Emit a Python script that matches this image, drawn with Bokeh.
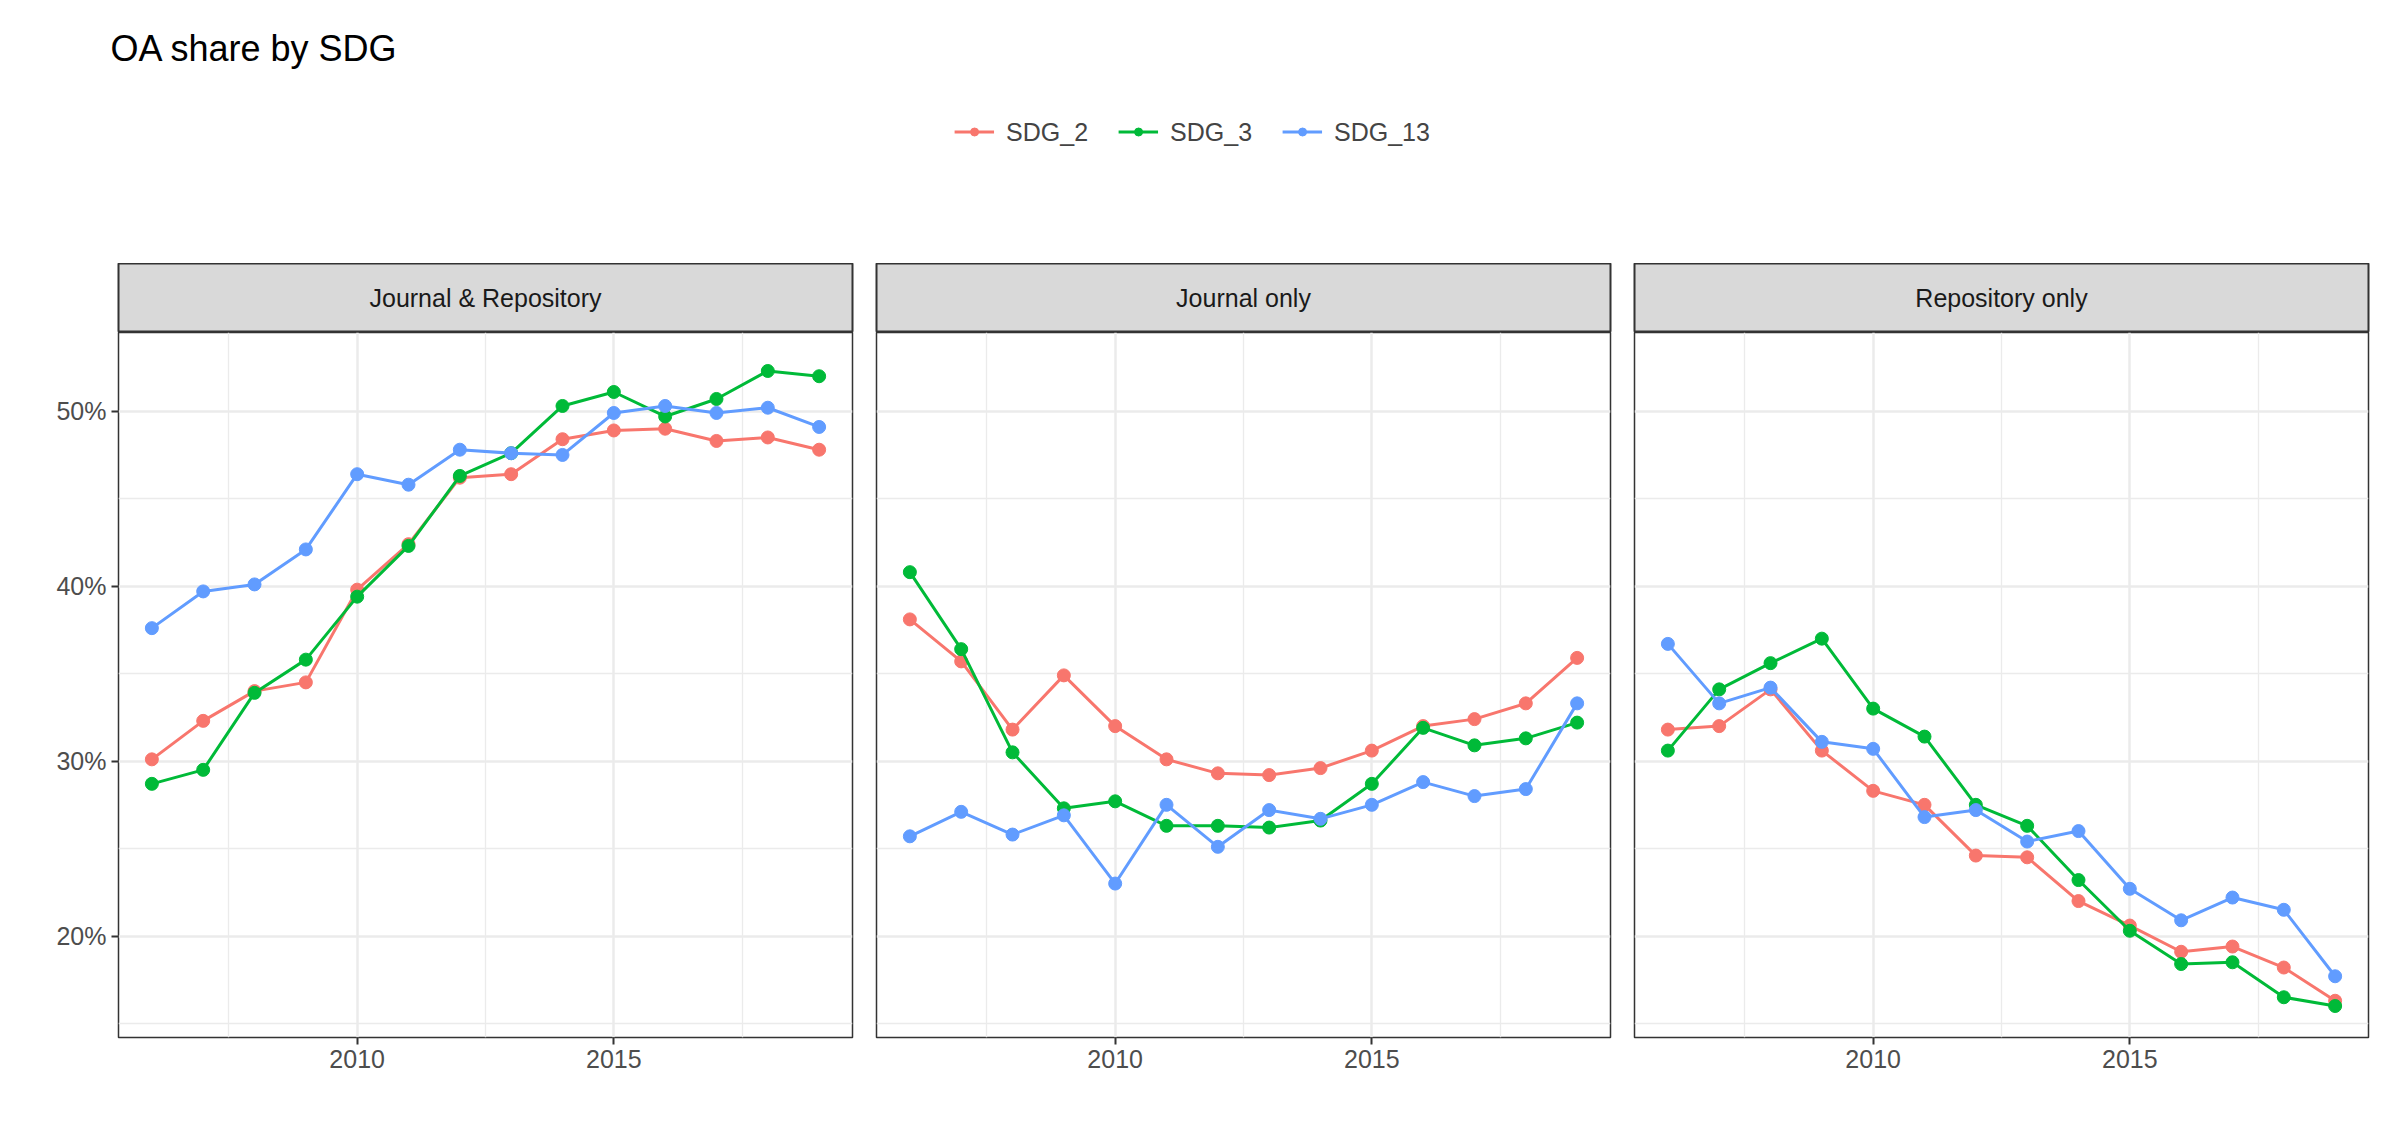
import numpy as np
from bokeh.plotting import figure
from bokeh.models import (ColumnDataSource, Legend, LegendItem, NumeralTickFormatter,
                          FixedTicker, Range1d, Row, Column, Label)
from bokeh.core.properties import value
from bokeh.embed import file_html
from bokeh.resources import INLINE

years = list(range(2006, 2020))
panels = ["Journal & Repository", "Journal only", "Repository only"]
series = ["SDG_2", "SDG_3", "SDG_13"]
colors = ["#F8766D", "#00BA38", "#619CFF"]

# share in percent
jr_sdg2 = [30.1, 32.3, 34.0, 34.5, 39.8, 42.4, 46.2, 46.4, 48.4, 48.9, 49.0, 48.3, 48.5, 47.8]
jr_sdg3 = [28.7, 29.5, 33.9, 35.8, 39.4, 42.3, 46.3, 47.6, 50.3, 51.1, 49.7, 50.7, 52.3, 52.0]
jr_sdg13 = [37.6, 39.7, 40.1, 42.1, 46.4, 45.8, 47.8, 47.6, 47.5, 49.9, 50.3, 49.9, 50.2, 49.1]

j_sdg2 = [38.1, 35.7, 31.8, 34.9, 32.0, 30.1, 29.3, 29.2, 29.6, 30.6, 32.0, 32.4, 33.3, 35.9]
j_sdg3 = [40.8, 36.4, 30.5, 27.3, 27.7, 26.3, 26.3, 26.2, 26.6, 28.7, 31.9, 30.9, 31.3, 32.2]
j_sdg13 = [25.7, 27.1, 25.8, 26.9, 23.0, 27.5, 25.1, 27.2, 26.7, 27.5, 28.8, 28.0, 28.4, 33.3]

r_sdg2 = [31.8, 32.0, 34.1, 30.6, 28.3, 27.5, 24.6, 24.5, 22.0, 20.6, 19.1, 19.4, 18.2, 16.3]
r_sdg3 = [30.6, 34.1, 35.6, 37.0, 33.0, 31.4, 27.5, 26.3, 23.2, 20.3, 18.4, 18.5, 16.5, 16.0]
r_sdg13 = [36.7, 33.3, 34.2, 31.1, 30.7, 26.8, 27.2, 25.4, 26.0, 22.7, 20.9, 22.2, 21.5, 17.7]

data = [[jr_sdg2, jr_sdg3, jr_sdg13], [j_sdg2, j_sdg3, j_sdg13], [r_sdg2, r_sdg3, r_sdg13]]

FONT = "Liberation Sans"
FRAME_W = 734
LEFT = 118
GAP = 12

# header: title + legend
header = figure(width=2384, height=263, output_backend="svg", toolbar_location=None,
                x_range=Range1d(0, 1), y_range=Range1d(0, 1),
                min_border_top=0, min_border_bottom=0, min_border_left=0, min_border_right=0)
header.axis.visible = False
header.grid.visible = False
header.outline_line_color = None
header.add_layout(Label(x=110, y=195, x_units="screen", y_units="screen", text="OA share by SDG",
                        text_font=FONT, text_font_size="36px", text_color="#000000"))
items = []
for s, c in zip(series, colors):
    # dummy point outside the visible range, only for the legend glyph
    src = ColumnDataSource(dict(x=[5], y=[5]))
    l = header.line("x", "y", source=src, color=c, line_width=3)
    m = header.scatter("x", "y", source=src, color=c, size=13)
    items.append(LegendItem(label=s, renderers=[l, m]))
leg = Legend(items=items, orientation="horizontal", location=(0, 0),
             label_text_font=FONT, label_text_font_size="25px",
             border_line_color=None, background_fill_alpha=0,
             glyph_width=40, spacing=30, label_standoff=12)
leg.location = "center"
header.add_layout(leg, "center")
header.y_range = Range1d(-0.45, 1.05)

cols = []
for i, name in enumerate(panels):
    left = LEFT if i == 0 else GAP
    right = GAP
    w = left + FRAME_W + right

    strip = figure(width=w, height=69, output_backend="svg", toolbar_location=None,
                   x_range=Range1d(0, 1), y_range=Range1d(0, 1),
                   min_border_left=left, min_border_right=right,
                   min_border_top=0, min_border_bottom=0)
    strip.axis.visible = False
    strip.grid.visible = False
    strip.background_fill_color = "#D9D9D9"
    strip.outline_line_color = "#333333"
    strip.outline_line_width = 2
    strip.text(x=[0.5], y=[0.5], text=[name], text_align="center", text_baseline="middle",
               text_font=value(FONT), text_font_size="25px", text_color="#1A1A1A")

    p = figure(width=w, height=760, output_backend="svg", toolbar_location=None,
               x_range=Range1d(2005.35, 2019.65), y_range=Range1d(0.142, 0.545),
               min_border_left=left, min_border_right=right,
               min_border_top=0, min_border_bottom=55)
    p.outline_line_color = "#333333"
    p.outline_line_width = 1.5
    p.xaxis.ticker = FixedTicker(ticks=[2010, 2015], minor_ticks=[2007.5, 2012.5, 2017.5])
    p.yaxis.ticker = FixedTicker(ticks=[0.2, 0.3, 0.4, 0.5], minor_ticks=[0.15, 0.25, 0.35, 0.45])
    p.yaxis.formatter = NumeralTickFormatter(format="0%")
    p.grid.grid_line_color = "#EBEBEB"
    p.grid.grid_line_width = 2.5
    p.grid.minor_grid_line_color = "#EBEBEB"
    p.grid.minor_grid_line_width = 1.3
    p.axis.axis_line_color = None
    p.axis.major_tick_line_color = "#333333"
    p.axis.major_tick_line_width = 2
    p.axis.major_tick_out = 7
    p.axis.major_tick_in = 0
    p.axis.minor_tick_line_color = None
    p.axis.major_label_text_font = FONT
    p.axis.major_label_text_font_size = "25px"
    p.axis.major_label_text_color = "#4D4D4D"
    if i > 0:
        p.yaxis.visible = False
    for vals, c in zip(data[i], colors):
        src = ColumnDataSource(dict(x=years, y=np.array(vals) / 100))
        p.line("x", "y", source=src, color=c, line_width=3)
        p.scatter("x", "y", source=src, color=c, size=13)
    cols.append(Column(strip, p, spacing=0))

layout = Column(header, Row(*cols, spacing=0), spacing=0)
open("out.html", "w").write(file_html(layout, INLINE))
